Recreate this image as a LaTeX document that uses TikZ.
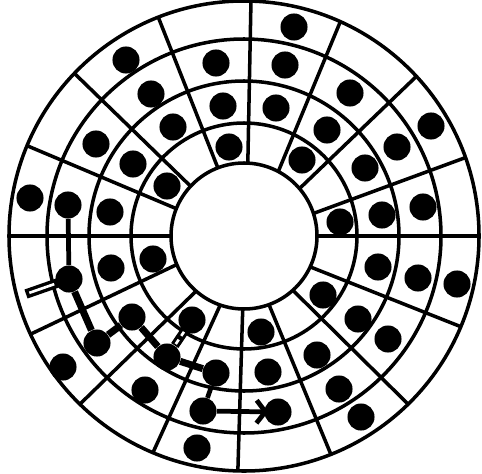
\documentclass[tikz,border=0pt]{standalone}
\usetikzlibrary{arrows.meta,calc}
\begin{document}
\begin{tikzpicture}[x=0.02cm,y=0.02cm,
  grid/.style={line width=2pt},
  dot/.style={circle, fill=black, draw=none, inner sep=0pt, minimum size=15.4pt},
  link/.style={line width=4pt},
  thinlink/.style={line width=2.7pt},
  slit/.style={white, line width=1.5pt}]
\useasboundingbox (-244,-237) rectangle (238,236);
\coordinate (c) at (0,0);
% tracks
\foreach \r in {73,113,155,197,235} \draw[grid] (c) circle[radius=\r];
% sector boundaries
\foreach \a/\b in {0/0, 18/19.5, 40.5/42.8, 62/65.8, 87/88.3, 111/111.4, 137/136.2, 158/157.4,
                   180/180, 203/204.7, 229/225.7, 251/247.2, 269/268.5, 290/291.7, 312/314.3, 335/337.3}
  \draw[grid] (\a:73) -- (\b:235);
% dots
\foreach \n/\x/\y in {1/-118/176, 2/-93/142, 3/-71/109, 4/-148/92, 5/-111/72, 6/-77/50,
  7/-214/38, 8/-176/31, 9/-134/24, 10/-28/173, 11/-21/130, 12/-15/89,
  13/50/209, 14/41/171, 15/32/128, 16/83/106, 17/58/76, 18/106/143,
  19/187/110, 20/153/89, 21/121/68, 22/96/14, 23/138/21, 24/179/29,
  25/134/-31, 26/174/-42, 27/213/-48, 28/79/-59, 29/114/-83, 30/144/-103,
  31/17/-96, 32/73/-119, 33/24/-136, 34/95/-153, 35/34/-176, 36/117/-181,
  37/-47/-212, 38/-28/-137, 39/-41/-175, 40/-77/-121, 41/-52/-84, 42/-99/-154,
  43/-175/-43, 44/-133/-32, 45/-91/-23, 46/-147/-107, 47/-112/-81, 48/-181/-131}
  \node[dot] (n\n) at (\x,\y) {};
% path of the head
\coordinate (barend) at (-218,-58);
\draw[line width=5.4pt] (barend) -- (n43.center);
\draw[slit, shorten <=2pt, shorten >=1pt] (barend) -- (n43);
\draw[thinlink] (n8) -- (n43);
\draw[link] (n43) -- (n46);
\draw[link] (n46) -- (n47);
\draw[link] (n47) -- (n40);
\draw[line width=5pt] (n41) -- (n40);
\draw[slit] ($(n41.center)!0.32!(n40.center)$) -- ($(n41.center)!0.43!(n40.center)$);
\draw[slit] ($(n41.center)!0.53!(n40.center)$) -- ($(n41.center)!0.65!(n40.center)$);
\draw[link] (n40) -- (n38);
\draw[thinlink] (n38) -- (n39);
\draw[thinlink, -{Straight Barb[length=5pt,width=13pt]}, shorten >=5.5pt] (n39) -- (n35.center);
\end{tikzpicture}
\end{document}
